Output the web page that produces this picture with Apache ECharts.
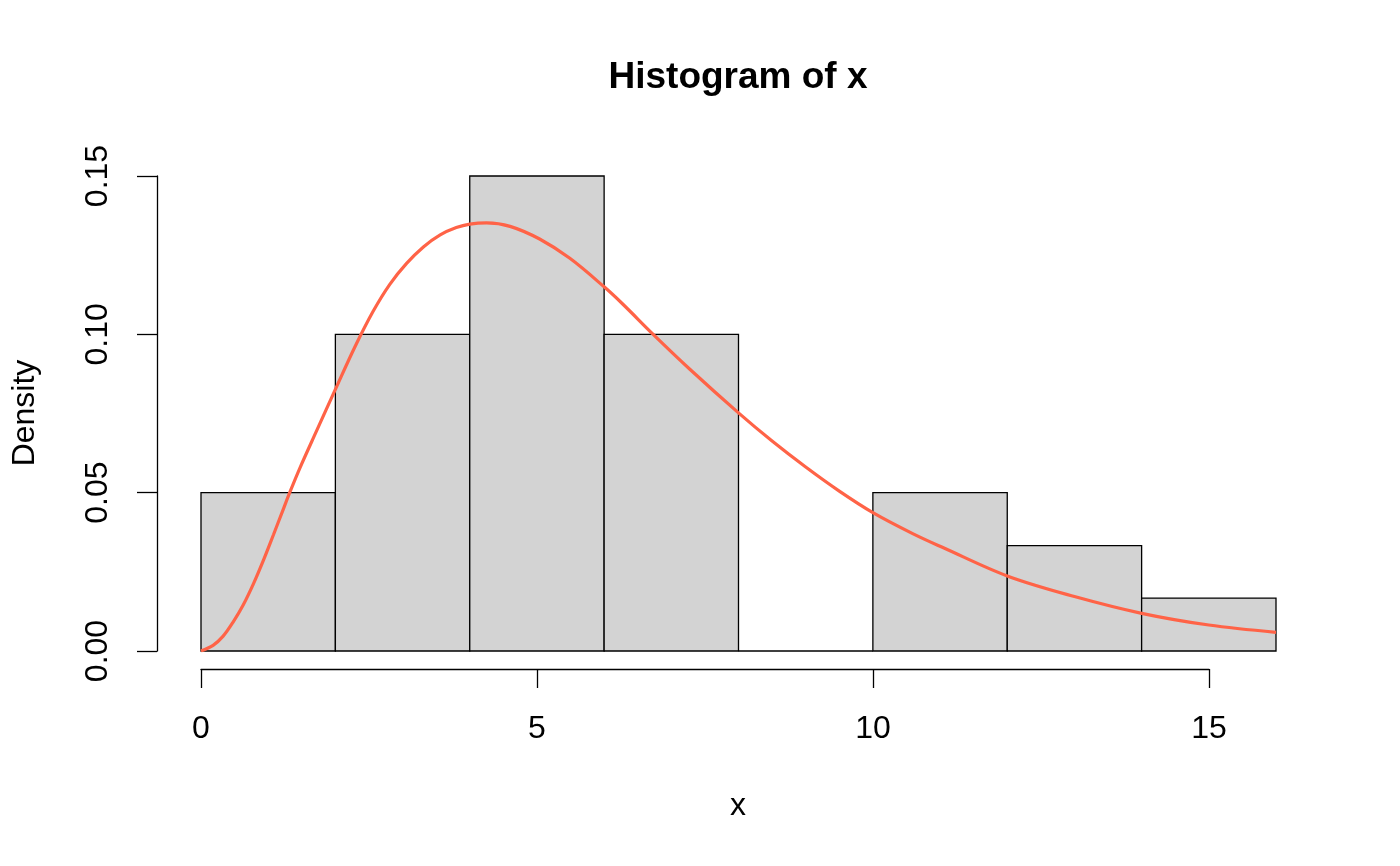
<!DOCTYPE html>
<html>
<head>
<meta charset="utf-8">
<script src="https://cdn.jsdelivr.net/npm/echarts@6/dist/echarts.min.js"></script>
<style>html,body{margin:0;padding:0;background:#fff;}#c{width:1400px;height:866px;}</style>
</head>
<body>
<div id="c"></div>
<script>
// Histogram bins (break edges) and densities
const binStarts = [0, 2, 4, 6, 8, 10, 12, 14];
const binEnds   = [2, 4, 6, 8, 10, 12, 14, 16];
const densities = [0.05, 0.10, 0.15, 0.10, 0.0, 0.05, 0.0333, 0.0167];
// Density curve
const curveX = [0, 0.18, 0.33, 0.48, 0.63, 0.78, 0.93, 1.08, 1.22, 1.32, 1.47, 1.72, 2.0, 2.29, 2.56, 2.81, 3.06, 3.31, 3.56, 3.8, 4.0, 4.25, 4.6, 5.04, 5.49, 6.0, 6.28, 6.73, 7.28, 8.0, 8.5, 9.0, 9.5, 10.0, 10.6, 11.05, 12.0, 13.0, 14.0, 15.0, 16.0];
const curveY = [0, 0.0018, 0.0047, 0.0092, 0.0146, 0.0212, 0.0287, 0.0368, 0.0445, 0.0500, 0.0577, 0.0695, 0.0826, 0.0960, 0.1072, 0.1158, 0.1224, 0.1276, 0.1314, 0.1337, 0.1348, 0.1352, 0.1341, 0.1301, 0.1240, 0.1150, 0.1095, 0.1000, 0.0889, 0.0752, 0.0663, 0.0581, 0.0505, 0.0437, 0.0370, 0.0326, 0.0237, 0.0172, 0.0119, 0.0082, 0.0059];
const xTicks = [0, 5, 10, 15];
const yTicks = [0, 0.05, 0.10, 0.15];

const FONT = '"Liberation Sans", Arial, Helvetica, sans-serif';
const chart = echarts.init(document.getElementById('c'), null, {renderer: 'canvas'});

const barData = binStarts.map((s, i) => [s, binEnds[i], densities[i]]);
const lineData = curveX.map((x, i) => [x, curveY[i]]);

chart.setOption({
  animation: false,
  backgroundColor: '#ffffff',
  grid: [
    {left: 201, top: 176, width: 1075, height: 475},
    {left: 201, top: 176, width: 1008, height: 493}
  ],
  xAxis: [
    {type: 'value', gridIndex: 0, min: 0, max: 16, show: false},
    {type: 'value', gridIndex: 1, min: xTicks[0], max: xTicks[xTicks.length - 1], interval: 5,
     axisLine: {show: true, onZero: false, lineStyle: {color: '#000', width: 1.3}},
     axisTick: {show: true, length: 19, lineStyle: {color: '#000', width: 1.3}},
     axisLabel: {show: true, fontSize: 32, color: '#000', fontFamily: FONT, margin: 44,
       formatter: v => xTicks.indexOf(v) >= 0 ? String(v) : ''},
     splitLine: {show: false}}
  ],
  yAxis: [
    {type: 'value', gridIndex: 0, min: yTicks[0], max: yTicks[yTicks.length - 1], interval: 0.05, offset: 44,
     axisLine: {show: true, onZero: false, lineStyle: {color: '#000', width: 1.3}},
     axisTick: {show: true, length: 20, lineStyle: {color: '#000', width: 1.3}},
     axisLabel: {show: true, rotate: 90, fontSize: 32, color: '#000', fontFamily: FONT, margin: 43,
       formatter: v => v.toFixed(2)},
     splitLine: {show: false}},
    {type: 'value', gridIndex: 1, min: 0, max: 1, show: false}
  ],
  graphic: [
    {type: 'text', x: 738, y: 78, silent: true,
     style: {text: 'Histogram of x', font: 'bold 37px ' + FONT, fill: '#000', textAlign: 'center', textVerticalAlign: 'middle'}},
    {type: 'text', x: 738, y: 806, silent: true,
     style: {text: 'x', font: '32px ' + FONT, fill: '#000', textAlign: 'center', textVerticalAlign: 'middle'}},
    {type: 'text', x: 25, y: 413, rotation: Math.PI / 2, silent: true,
     style: {text: 'Density', font: '32px ' + FONT, fill: '#000', textAlign: 'center', textVerticalAlign: 'middle'}}
  ],
  series: [
    {type: 'custom', xAxisIndex: 0, yAxisIndex: 0, data: barData, clip: false,
     renderItem: function (params, api) {
       const p0 = api.coord([api.value(0), api.value(2)]);
       const p1 = api.coord([api.value(1), 0]);
       return {type: 'rect', shape: {x: p0[0], y: p0[1], width: p1[0] - p0[0], height: p1[1] - p0[1]},
         style: {fill: '#D3D3D3', stroke: '#000', lineWidth: 1.3}};
     }},
    {type: 'line', xAxisIndex: 0, yAxisIndex: 0, data: lineData, showSymbol: false, smooth: 0.35,
     lineStyle: {color: '#FF6347', width: 3.2}, z: 5}
  ]
});
</script>
</body>
</html>
